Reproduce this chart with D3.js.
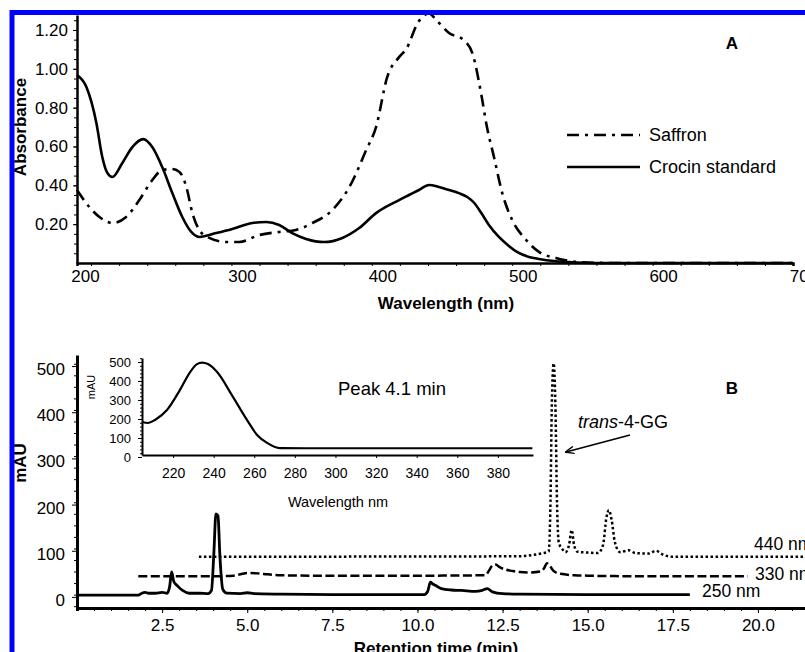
<!DOCTYPE html>
<html><head><meta charset="utf-8">
<script src="https://cdn.jsdelivr.net/npm/d3@7"></script>
<style>
body{margin:0;background:#fff;}
svg{display:block;font-family:"Liberation Sans",Arial,sans-serif;}
.axis path,.axis line{stroke:#000;}
.axis text{fill:#000;}
</style></head>
<body>
<svg id="chart" width="805" height="652"></svg>
<script>
// ---------- Panel A data (wavelength nm, absorbance) ----------
const crocinStd = [[190,0.968],[196.7,0.906],[203.8,0.721],[208,0.546],[211.6,0.464],[215.2,0.443],[222.3,0.515],[229.4,0.597],[237.2,0.638],[243.6,0.597],[250.7,0.494],[257.9,0.36],[265,0.237],[271.4,0.16],[277.1,0.134],[289.2,0.154],[300.6,0.175],[314.8,0.206],[324.8,0.211],[334,0.196],[343.3,0.154],[353.2,0.124],[366,0.108],[379,0.129],[391,0.18],[403,0.257],[419.4,0.324],[426.5,0.35],[433.6,0.376],[440.8,0.402],[447.9,0.391],[455,0.376],[462,0.36],[468,0.34],[473,0.309],[478,0.257],[483.4,0.196],[490.5,0.134],[497.6,0.088],[503.4,0.057],[512,0.031],[519,0.021],[529.7,0.01],[540,0.005],[561.7,0],[600,0],[700,0]];
const saffron = [[190,0.376],[198.8,0.288],[206,0.237],[215.2,0.206],[225,0.237],[234.4,0.324],[243.6,0.427],[250.7,0.479],[258,0.484],[263,0.469],[267.9,0.391],[272.2,0.257],[277.1,0.17],[284.2,0.129],[296.3,0.108],[305.6,0.108],[319.8,0.144],[334,0.16],[346,0.17],[357.7,0.206],[371.9,0.273],[384,0.391],[396,0.582],[403,0.7],[411,0.958],[419.4,1.06],[424.4,1.1],[433,1.24],[440.8,1.285],[446,1.25],[455,1.184],[465,1.15],[471.6,1.081],[477.8,0.875],[482,0.7],[487,0.546],[492.9,0.36],[500,0.221],[510,0.118],[519,0.057],[531,0.026],[547.5,0.005],[570,0],[700,0]];
const xTicksA = [200,300,400,500,600,700];
const yTicksA = [0.20,0.40,0.60,0.80,1.00,1.20];
const legendA = ["Saffron","Crocin standard"];

// ---------- Panel B data (time min, mAU) ----------
const trace250 = [[0,4],[1.8,4],[1.9,8],[2.0,10],[2.1,8],[2.3,8],[2.5,10],[2.65,8],[2.72,22],[2.78,54],[2.84,34],[2.95,24],[3.1,14],[3.3,8],[3.6,8],[3.85,7],[3.95,14],[4.02,95],[4.08,180],[4.14,176],[4.2,85],[4.28,17],[4.4,8],[4.8,7],[5.0,9],[5.2,7],[6,6],[8,5],[10.2,5],[10.3,12],[10.38,32],[10.45,28],[10.55,24],[10.7,18],[11.0,15],[11.3,14],[11.7,12],[11.9,14],[12.05,18],[12.2,11],[12.5,7],[13,6],[15,5],[18,5]];
const trace330 = [[1.8,45],[4.3,45],[4.6,46],[4.8,49],[5.0,52],[5.3,51],[5.6,49],[6.0,47],[7,46],[10,46],[12.0,47],[12.1,57],[12.2,68],[12.3,70],[12.4,65],[12.6,59],[12.8,56],[13.0,54],[13.3,53],[13.6,55],[13.72,62],[13.8,73],[13.9,66],[14.0,56],[14.2,50],[14.6,47],[15,46],[16,45],[19.7,45]];
const trace440 = [[3.58,87],[13.0,88],[13.4,91],[13.7,95],[13.85,98],[13.9,180],[13.95,430],[14.0,506],[14.05,420],[14.1,200],[14.15,118],[14.25,104],[14.35,97],[14.45,112],[14.53,145],[14.6,112],[14.7,98],[15.0,96],[15.3,95],[15.45,112],[15.55,172],[15.62,188],[15.7,168],[15.8,118],[15.95,97],[16.2,101],[16.4,95],[16.8,94],[17.0,100],[17.2,92],[17.5,87],[21.5,87]];
const xTicksB = [2.5,5.0,7.5,10.0,12.5,15.0,17.5,20.0];
const yTicksB = [0,100,200,300,400,500];
const traceLabels = ["440 nm","330 nm","250 nm"];

// ---------- Inset data (wavelength nm, mAU) ----------
const inset41 = [[204.7,184],[207.7,179],[211.1,195],[217,247],[223.4,353],[228.4,447],[231.8,489],[234.3,497],[237.2,489],[241.7,447],[249.5,316],[256.4,195],[261.4,116],[266.3,74],[272.7,47],[285,46],[397,46]];
const xTicksIn = [220,240,260,280,300,320,340,360,380];
const yTicksIn = [0,100,200,300,400,500];

const svg = d3.select("#chart");

// ================= Panel A =================
const xA = d3.scaleLinear().domain([190,700]).range([77,793]);
const yA = d3.scaleLinear().domain([0,1.277]).range([263,15]);
const lineA = d3.line().x(d=>xA(d[0])).y(d=>yA(d[1])).curve(d3.curveMonotoneX);

const gA = svg.append("g");
// minor x ticks every 20 nm
gA.append("g").attr("class","axis").attr("transform","translate(0,263)")
  .call(d3.axisBottom(xA).tickValues(d3.range(200,701,20)).tickSize(3).tickFormat(""))
  .call(g=>g.select(".domain").attr("stroke-width",2.5))
  .call(g=>g.selectAll(".tick line").attr("stroke-width",1));
// x labels
gA.append("g").attr("class","axis").attr("transform","translate(0,263)")
  .call(d3.axisBottom(xA).tickValues(xTicksA).tickSize(0).tickPadding(7).tickFormat(d3.format("d")))
  .call(g=>g.select(".domain").remove())
  .call(g=>g.selectAll("text").attr("font-size",17).attr("dx",d=>d===200?-6:10.5));
// y minor ticks
gA.append("g").attr("class","axis").attr("transform","translate(77,0)")
  .call(d3.axisLeft(yA).tickValues(d3.range(0.05,1.27,0.05)).tickSize(3).tickFormat(""))
  .call(g=>g.select(".domain").remove())
  .call(g=>g.selectAll(".tick line").attr("stroke-width",1));
gA.append("g").attr("class","axis").attr("transform","translate(77,0)")
  .call(d3.axisLeft(yA).tickValues(yTicksA).tickSize(4).tickPadding(5).tickFormat(d3.format(".2f")).tickSizeOuter(0))
  .call(g=>g.select(".domain").attr("stroke-width",2.5))
  .call(g=>g.selectAll("text").attr("font-size",17));

gA.append("path").datum(saffron).attr("d",lineA).attr("fill","none").attr("stroke","#000")
  .attr("stroke-width",2.6).attr("stroke-dasharray","12,6,3,6");
gA.append("path").datum(crocinStd).attr("d",lineA).attr("fill","none").attr("stroke","#000")
  .attr("stroke-width",2.6);

gA.append("text").attr("x",20).attr("y",127).attr("transform","rotate(-90,20,127)")
  .attr("text-anchor","middle").attr("dy","0.35em").attr("font-size",17).attr("font-weight","bold").text("Absorbance");
gA.append("text").attr("x",446).attr("y",309).attr("text-anchor","middle")
  .attr("font-size",17).attr("font-weight","bold").text("Wavelength (nm)");
gA.append("text").attr("x",732).attr("y",43).attr("dy","0.35em").attr("text-anchor","middle")
  .attr("font-size",17).attr("font-weight","bold").text("A");

// legend
const legStyles = [{dash:"12,6,3,6"},{dash:null}];
legendA.forEach((name,i)=>{
  const y = 135 + i*32;
  const l = gA.append("line").attr("x1",567).attr("x2",640).attr("y1",y).attr("y2",y)
    .attr("stroke","#000").attr("stroke-width",2.6);
  if(legStyles[i].dash) l.attr("stroke-dasharray",legStyles[i].dash);
  gA.append("text").attr("x",649).attr("y",y).attr("dy","0.35em").attr("font-size",18).text(name);
});

// ================= Panel B =================
const xB = d3.scaleLinear().domain([0,21.5]).range([77,809]);
const yB = d3.scaleLinear().domain([-24,524]).range([608,355]);
const lineB = d3.line().x(d=>xB(d[0])).y(d=>yB(d[1])).curve(d3.curveMonotoneX);

const gB = svg.append("g");
gB.append("g").attr("class","axis").attr("transform","translate(0,608)")
  .call(d3.axisBottom(xB).tickValues(d3.range(0.5,21.5,0.5)).tickSize(3).tickFormat(""))
  .call(g=>g.select(".domain").attr("stroke-width",3))
  .call(g=>g.selectAll(".tick line").attr("stroke-width",1));
gB.append("g").attr("class","axis").attr("transform","translate(0,608)")
  .call(d3.axisBottom(xB).tickValues(xTicksB).tickSize(5).tickPadding(6).tickFormat(d3.format(".1f")))
  .call(g=>g.select(".domain").remove())
  .call(g=>g.selectAll("text").attr("font-size",17));
gB.append("g").attr("class","axis").attr("transform","translate(77,0)")
  .call(d3.axisLeft(yB).tickValues(d3.range(-20,521,25)).tickSize(3).tickFormat(""))
  .call(g=>g.select(".domain").remove())
  .call(g=>g.selectAll(".tick line").attr("stroke-width",1));
gB.append("g").attr("class","axis").attr("transform","translate(77,0)")
  .call(d3.axisLeft(yB).tickValues(yTicksB).tickSize(5).tickPadding(7).tickSizeOuter(0).tickFormat(d3.format("d")))
  .call(g=>g.select(".domain").attr("stroke-width",3))
  .call(g=>g.selectAll("text").attr("font-size",17).attr("dy","0.5em"));

gB.append("path").datum(trace440).attr("d",lineB).attr("fill","none").attr("stroke","#000")
  .attr("stroke-width",2.5).attr("stroke-dasharray","2.5,2.5");
gB.append("path").datum(trace330).attr("d",lineB).attr("fill","none").attr("stroke","#000")
  .attr("stroke-width",2.5).attr("stroke-dasharray","9,3.5");
gB.append("path").datum(trace250).attr("d",lineB).attr("fill","none").attr("stroke","#000")
  .attr("stroke-width",2.8);

const labPos = [[754,550],[755,580],[702,597]];
traceLabels.forEach((t,i)=>{
  gB.append("text").attr("x",labPos[i][0]).attr("y",labPos[i][1]).attr("font-size",17.5).text(t);
});

gB.append("text").attr("x",20).attr("y",463).attr("transform","rotate(-90,20,463)")
  .attr("text-anchor","middle").attr("dy","0.35em").attr("font-size",17).attr("font-weight","bold").text("mAU");
gB.append("text").attr("x",436).attr("y",654).attr("text-anchor","middle")
  .attr("font-size",17).attr("font-weight","bold").text("Retention time (min)");
gB.append("text").attr("x",732).attr("y",388).attr("dy","0.35em").attr("text-anchor","middle")
  .attr("font-size",17).attr("font-weight","bold").text("B");

// annotation
const ann = gB.append("text").attr("x",578).attr("y",428).attr("font-size",18);
ann.append("tspan").attr("font-style","italic").text("trans");
ann.append("tspan").text("-4-GG");
svg.append("defs").append("marker").attr("id","arr").attr("viewBox","0 0 10 10")
  .attr("refX",9).attr("refY",5).attr("markerWidth",9).attr("markerHeight",9)
  .attr("markerUnits","userSpaceOnUse").attr("orient","auto")
  .append("path").attr("d","M0,1 L10,5 L0,9").attr("fill","none").attr("stroke","#000").attr("stroke-width",1.6);
gB.append("line").attr("x1",630).attr("y1",435).attr("x2",566).attr("y2",452)
  .attr("stroke","#000").attr("stroke-width",1.6).attr("marker-end","url(#arr)");

// ================= Inset =================
const xI = d3.scaleLinear().domain([204.7,397.3]).range([142,533]);
const yI = d3.scaleLinear().domain([10.5,521]).range([455,358]);
const lineI = d3.line().x(d=>xI(d[0])).y(d=>yI(d[1])).curve(d3.curveMonotoneX);
const gI = svg.append("g");
gI.append("g").attr("class","axis").attr("transform","translate(0,455)")
  .call(d3.axisBottom(xI).tickValues(xTicksIn).tickSize(3).tickPadding(10).tickSizeOuter(0).tickFormat(d3.format("d")))
  .call(g=>g.select(".domain").attr("stroke-width",2))
  .call(g=>g.selectAll("text").attr("font-size",14));
gI.append("g").attr("class","axis").attr("transform","translate(142,0)")
  .call(d3.axisLeft(yI).tickValues(d3.range(20,521,20)).tickSize(2).tickFormat(""))
  .call(g=>g.select(".domain").remove())
  .call(g=>g.selectAll(".tick line").attr("stroke-width",1));
gI.append("g").attr("class","axis").attr("transform","translate(142,0)")
  .call(d3.axisLeft(yI).tickValues(yTicksIn).tickSize(4).tickPadding(7).tickSizeOuter(0).tickFormat(d3.format("d")))
  .call(g=>g.select(".domain").attr("stroke-width",2))
  .call(g=>g.selectAll("text").attr("font-size",13));
gI.append("path").datum(inset41).attr("d",lineI).attr("fill","none").attr("stroke","#000").attr("stroke-width",2.2);
gI.append("text").attr("x",91).attr("y",387).attr("transform","rotate(-90,91,387)")
  .attr("text-anchor","middle").attr("dy","0.35em").attr("font-size",11).text("mAU");
gI.append("text").attr("x",338).attr("y",507).attr("text-anchor","middle").attr("font-size",14.5).text("Wavelength nm");
gI.append("text").attr("x",338).attr("y",395).attr("font-size",18.5).text("Peak 4.1 min");

// blue frame
svg.append("rect").attr("x",12).attr("y",12.5).attr("width",1400).attr("height",1400)
  .attr("fill","none").attr("stroke","#0000ff").attr("stroke-width",5);
</script>
</body></html>
